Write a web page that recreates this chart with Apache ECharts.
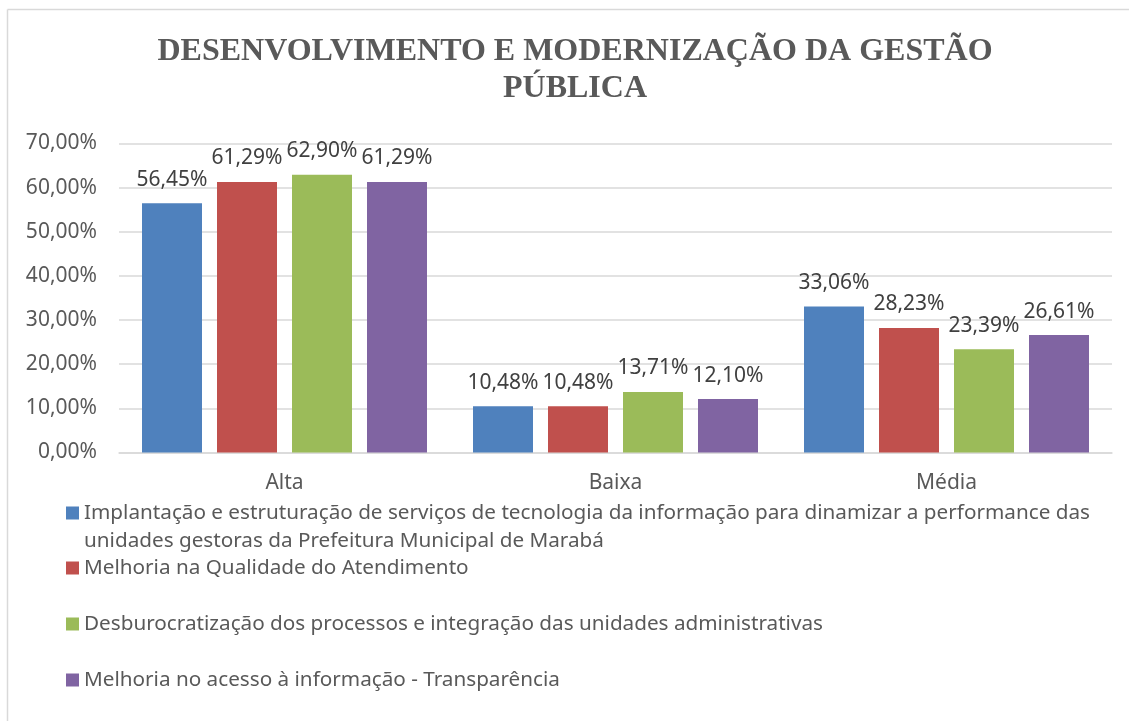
<!DOCTYPE html>
<html>
<head>
<meta charset="utf-8">
<script src="https://cdn.jsdelivr.net/npm/echarts@6/dist/echarts.min.js"></script>
<style>
  html, body { margin: 0; padding: 0; background: #fff; }
  #chart { width: 1129px; height: 721px; }
</style>
</head>
<body>
<div id="chart"></div>
<script>
// categorias e valores (%)
var categories = ['Alta', 'Baixa', 'Média'];
var seriesNames = [
    'Implantação e estruturação de serviços de tecnologia da informação para dinamizar a performance das unidades gestoras da Prefeitura Municipal de Marabá',
    'Melhoria na Qualidade do Atendimento',
    'Desburocratização dos processos e integração das unidades administrativas',
    'Melhoria no acesso à informação - Transparência'
];
var implantacao = [56.45, 10.48, 33.06];
var qualidade = [61.29, 10.48, 28.23];
var desburocratizacao = [62.90, 13.71, 23.39];
var transparencia = [61.29, 12.10, 26.61];
var yTicks = [0, 10, 20, 30, 40, 50, 60, 70];

var colors = ['#4F81BD', '#C0504D', '#9BBB59', '#8064A2'];
var values = [implantacao, qualidade, desburocratizacao, transparencia];
var txtFont = '"Noto Sans", "Open Sans", sans-serif';

function pct(v) {
    return v.toFixed(2).replace('.', ',') + '%';
}

var chart = echarts.init(document.getElementById('chart'));

var series = values.map(function (vals, i) {
    return {
        name: seriesNames[i],
        type: 'bar',
        data: vals,
        barWidth: 60,
        barGap: '25%',
        itemStyle: { color: colors[i] },
        label: {
            show: true,
            position: 'top',
            distance: 13,
            color: '#404040',
            fontFamily: txtFont,
            fontSize: 21,
            formatter: function (p) { return pct(p.value); }
        }
    };
});

// legenda: um bloco por série, posições como no original
var legendTops = [466, 549, 605, 661];
var legends = seriesNames.map(function (name, i) {
    var lg = {
        data: [name],
        left: 61,
        top: legendTops[i],
        orient: 'vertical',
        icon: 'rect',
        itemWidth: 13,
        itemHeight: 13,
        itemGap: 0,
        selectedMode: false,
        textStyle: {
            color: '#595959',
            fontFamily: txtFont,
            fontSize: 20.7,
            lineHeight: 28
        }
    };
    if (i === 0) {
        // linha vazia em cima para o ícone ficar alinhado com a 1ª linha
        lg.formatter = function () {
            return ' \nImplantação e estruturação de serviços de tecnologia da informação para dinamizar a performance das\nunidades gestoras da Prefeitura Municipal de Marabá';
        };
    }
    return lg;
});

var option = {
    backgroundColor: '#fff',
    animation: false,
    title: {
        text: 'DESENVOLVIMENTO E MODERNIZAÇÃO DA GESTÃO\nPÚBLICA',
        left: 570,
        top: 28,
        textAlign: 'center',
        textStyle: {
            fontFamily: '"Liberation Serif", "DejaVu Serif", serif',
            fontWeight: 'bold',
            fontSize: 32,
            lineHeight: 37,
            color: '#595959'
        }
    },
    legend: legends,
    grid: {
        left: 119,
        right: 17,
        top: 143.5,
        bottom: 721 - 452.5
    },
    xAxis: {
        type: 'category',
        data: categories,
        axisTick: { show: false },
        axisLine: { lineStyle: { color: '#D9D9D9', width: 1.5 } },
        axisLabel: {
            margin: 20,
            color: '#595959',
            fontFamily: txtFont,
            fontSize: 21
        }
    },
    yAxis: {
        type: 'value',
        min: yTicks[0],
        max: yTicks[yTicks.length - 1],
        interval: 10,
        axisLine: { show: false },
        axisTick: { show: false },
        splitLine: { lineStyle: { color: '#D9D9D9', width: 1.5 } },
        axisLabel: {
            margin: 22,
            color: '#595959',
            fontFamily: txtFont,
            fontSize: 21,
            formatter: function (v) { return pct(v); }
        }
    },
    graphic: [
        { type: 'line', shape: { x1: 7.5, y1: 9.5, x2: 1129, y2: 9.5 }, style: { stroke: '#D9D9D9', lineWidth: 1.5 } },
        { type: 'line', shape: { x1: 7.5, y1: 9.5, x2: 7.5, y2: 721 }, style: { stroke: '#D9D9D9', lineWidth: 1.5 } }
    ],
    series: series
};

chart.setOption(option);
</script>
</body>
</html>
